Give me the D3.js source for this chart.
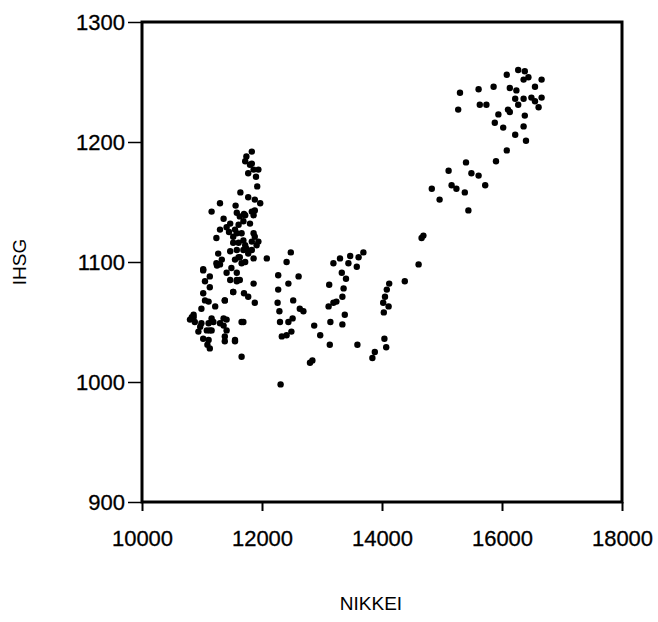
<!DOCTYPE html>
<html>
<head>
<meta charset="utf-8">
<script src="https://cdn.jsdelivr.net/npm/d3@7"></script>
<style>
  body { margin: 0; background: #fff; overflow: hidden; }
  svg { display: block; }
  svg text { font-family: "Liberation Sans", Arial, sans-serif; fill: #000; }
</style>
</head>
<body>
<svg id="chart"></svg>
<script>
const svgWidth = 658;
const svgHeight = 622;

// data: NIKKEI (x) vs IHSG (y)
var nikkei = [
  16080,16270,16380,16360,16660,16550,16130,16240,15610,15300,15860,16220,16360,16490,16660,16610,16270,15630,15740,15270,
  15940,16130,16380,15880,16020,16360,16220,16400,16080,15900,16440,16550,16100,
  15400,15110,15490,15610,15720,14830,15160,15240,15380,14960,15440,14690,14660,14610,14380,
  14120,14080,14050,14020,14110,14030,14040,14070,13880,13840,
  13690,13610,13470,13440,13300,13190,13580,13330,13400,13120,13360,13340,13240,13190,13110,13140,13340,13380,12870,12970,13130,13590,12840,12800,
  12080,12480,12410,12270,12610,12440,12270,12520,12260,12290,12630,12690,12510,12440,12300,12490,12330,12410,12310,
  11830,11740,11720,11800,11860,11770,11900,11920,11640,11770,11880,11970,11300,11160,11880,11580,11720,11360,11470,11610,
  11550,11300,11860,11800,11660,11520,11240,11880,11830,11610,11720,11910,11580,11770,11630,11270,11550,11720,11860,11240,
  11300,11020,11490,11130,11050,11470,11580,11860,11520,11700,11770,11020,11110,11220,11380,11880,10990,11690,10830,10880,
  10990,11110,11160,11410,11300,11410,11380,10940,11020,11090,11380,11550,11660,11080,10860,
  11410,11690,11520,11740,11470,11660,11580,11410,11130,11050,11360,10970,11160,11110,10800,
  11940,11830,11830,11630,11690,11580,11860,11940,11690,11830,11610,11330,11560,11450,11700,
  11020,11580,11630,11520,11380,10860,11190,11360,11660,11130,11130,11550,11250
];
var ihsg = [
  1256,1260,1259,1252,1252,1246,1245,1243,1244,1241,1246,1236,1236,1237,1237,1229,1231,1231,1231,1227,
  1223,1225,1222,1216,1212,1213,1206,1201,1193,1184,1254,1234,1227,
  1183,1176,1174,1172,1164,1161,1164,1161,1158,1152,1143,1122,1120,1098,1084,
  1082,1077,1071,1066,1063,1058,1036,1029,1025,1020,
  1108,1104,1105,1099,1103,1099,1096,1091,1086,1081,1078,1071,1067,1066,1063,1050,1048,1056,1047,1039,1031,1031,1018,1016,
  1103,1108,1100,1089,1088,1082,1077,1068,1066,1059,1061,1059,1053,1050,1050,1042,1038,1039,998,
  1192,1188,1184,1181,1177,1174,1171,1163,1158,1154,1152,1149,1149,1142,1143,1141,1139,1136,1132,1131,
  1127,1127,1139,1132,1124,1121,1120,1121,1117,1116,1114,1114,1110,1107,1104,1107,1102,1100,1103,1099,
  1098,1094,1095,1088,1084,1085,1084,1082,1075,1074,1071,1074,1067,1063,1068,1066,1061,1050,1054,1050,
  1049,1049,1043,1052,1049,1043,1038,1042,1036,1031,1034,1034,1021,1043,1056,
  1129,1118,1116,1111,1109,1099,1091,1091,1079,1068,1047,1046,1053,1035,1052,
  1177,1182,1142,1138,1134,1124,1124,1117,1110,1110,1104,1102,1147,1125,1140,
  1093,1085,1085,1075,1068,1054,1050,1053,1050,1043,1028,1035,1097
];
var xTicks = [10000, 12000, 14000, 16000, 18000];
var yTicks = [900, 1000, 1100, 1200, 1300];
var xTitle = "NIKKEI";
var yTitle = "IHSG";

var points = nikkei.map(function(d, i) { return { x: d, y: ihsg[i] }; });

var margin = { top: 22, right: 36, bottom: 120, left: 142 };
var innerWidth = svgWidth - margin.left - margin.right;   // 480
var innerHeight = svgHeight - margin.top - margin.bottom; // 480

const svg = d3.select("#chart")
  .attr("width", svgWidth)
  .attr("height", svgHeight);

var graph = svg.append("g")
  .attr("transform", "translate(" + margin.left + "," + margin.top + ")");

var x = d3.scaleLinear().domain([10000, 18000]).range([0, innerWidth]);
var y = d3.scaleLinear().domain([900, 1300]).range([innerHeight, 0]);

// x axis
var xAxis = graph.append("g")
  .attr("transform", "translate(0," + innerHeight + ")")
  .call(d3.axisBottom(x).tickValues(xTicks).tickSize(9).tickPadding(19).tickFormat(d3.format("d")).tickSizeOuter(0));
xAxis.select(".domain").remove();
xAxis.selectAll("line").attr("stroke", "#000").attr("stroke-width", 2);
xAxis.selectAll("text").attr("font-size", 22).attr("fill", "#000")
  .attr("stroke", "#000").attr("stroke-width", 0.3);

// y axis
var yAxis = graph.append("g")
  .call(d3.axisLeft(y).tickValues(yTicks).tickSize(14).tickPadding(3).tickFormat(d3.format("d")).tickSizeOuter(0));
yAxis.select(".domain").remove();
yAxis.selectAll("line").attr("stroke", "#000").attr("stroke-width", 1.5);
yAxis.selectAll("text").attr("font-size", 22).attr("fill", "#000")
  .attr("stroke", "#000").attr("stroke-width", 0.3);

// frame
graph.append("rect")
  .attr("x", 0).attr("y", 0)
  .attr("width", innerWidth).attr("height", innerHeight)
  .attr("fill", "none").attr("stroke", "#000").attr("stroke-width", 3);

// points
graph.append("g")
  .selectAll("circle")
  .data(points)
  .enter().append("circle")
    .attr("cx", function(d) { return x(d.x); })
    .attr("cy", function(d) { return y(d.y); })
    .attr("r", 3.2)
    .attr("fill", "#000");

// axis titles
svg.append("text")
  .attr("x", 371).attr("y", 610)
  .attr("text-anchor", "middle")
  .attr("font-size", 19)
  .text(xTitle);

svg.append("text")
  .attr("transform", "translate(26," + (margin.top + innerHeight / 2) + ") rotate(-90)")
  .attr("text-anchor", "middle")
  .attr("font-size", 19)
  .text(yTitle);
</script>
</body>
</html>
